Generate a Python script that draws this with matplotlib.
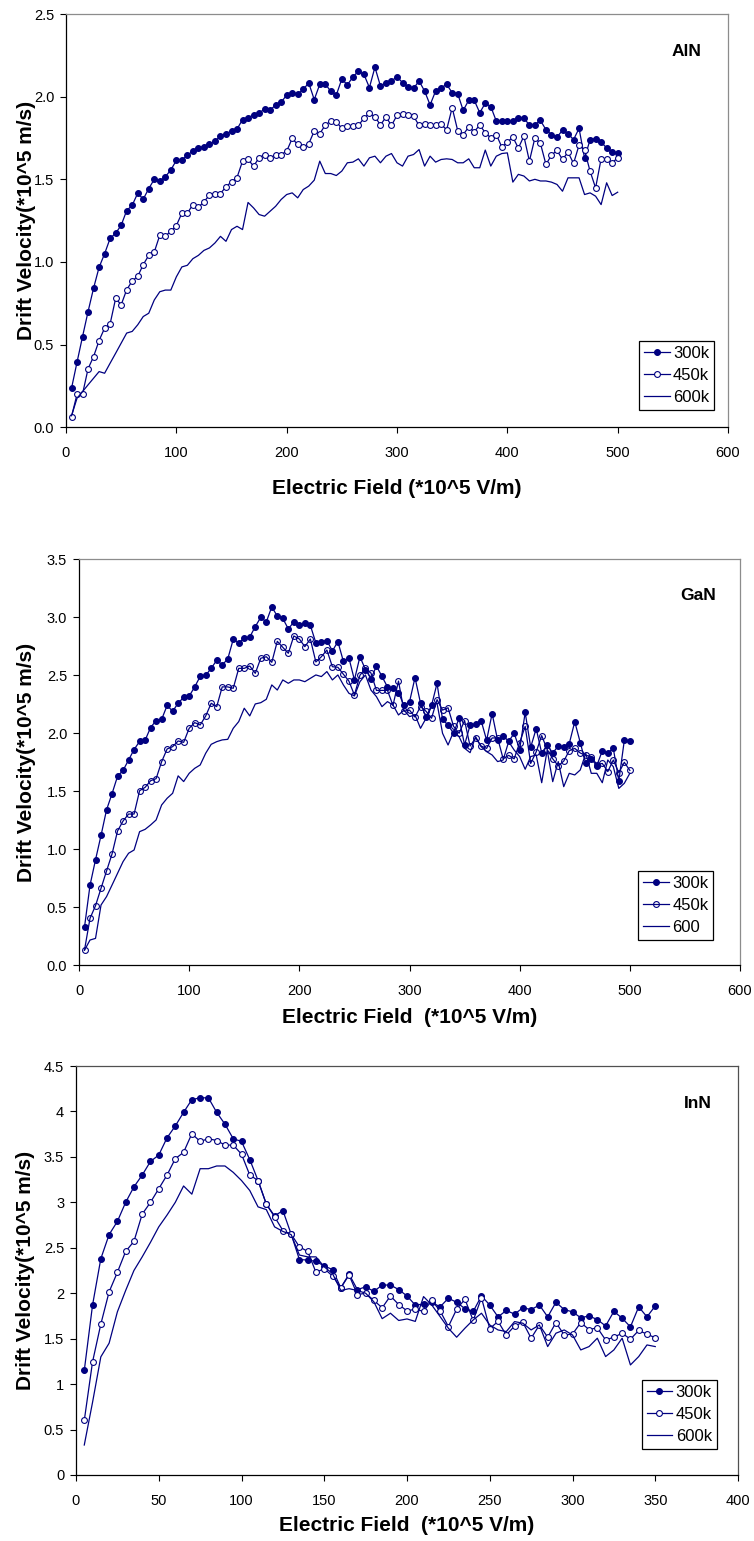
import numpy as np
import matplotlib
matplotlib.use("Agg")
import matplotlib.pyplot as plt
from matplotlib.ticker import FormatStrFormatter, FuncFormatter

plt.rcParams['font.family'] = ['Liberation Sans', 'DejaVu Sans']

NAVY = '#000080'

# ---------------- data ----------------
aln_field = np.arange(5, 505, 5)
aln_300k = [0.236, 0.394, 0.549, 0.70, 0.842, 0.968, 1.05, 1.143, 1.174, 1.222,
            1.311, 1.343, 1.416, 1.38, 1.444, 1.50, 1.487, 1.515, 1.557, 1.614,
            1.616, 1.646, 1.671, 1.691, 1.697, 1.711, 1.731, 1.76, 1.776, 1.792,
            1.804, 1.861, 1.873, 1.889, 1.899, 1.927, 1.919, 1.949, 1.966, 2.01,
            2.024, 2.014, 2.044, 2.083, 1.982, 2.075, 2.077, 2.032, 2.01, 2.107,
            2.071, 2.119, 2.154, 2.135, 2.055, 2.178, 2.064, 2.085, 2.095, 2.12,
            2.085, 2.06, 2.05, 2.095, 2.034, 1.95, 2.034, 2.054, 2.074, 2.024,
            2.018, 1.917, 1.978, 1.978, 1.903, 1.96, 1.94, 1.852, 1.85, 1.85,
            1.85, 1.873, 1.873, 1.826, 1.83, 1.856, 1.80, 1.77, 1.755, 1.797,
            1.776, 1.74, 1.808, 1.628, 1.74, 1.745, 1.725, 1.69, 1.664, 1.66]
aln_450k = [0.065, 0.20, 0.202, 0.354, 0.428, 0.525, 0.60, 0.626, 0.78, 0.741,
            0.832, 0.885, 0.913, 0.984, 1.04, 1.06, 1.162, 1.156, 1.186, 1.22,
            1.295, 1.295, 1.347, 1.331, 1.364, 1.404, 1.414, 1.414, 1.455, 1.485,
            1.511, 1.61, 1.62, 1.58, 1.63, 1.65, 1.63, 1.648, 1.65, 1.67,
            1.747, 1.711, 1.695, 1.715, 1.792, 1.776, 1.828, 1.853, 1.848, 1.808,
            1.822, 1.824, 1.826, 1.869, 1.899, 1.879, 1.828, 1.877, 1.826, 1.887,
            1.893, 1.887, 1.882, 1.826, 1.836, 1.826, 1.828, 1.832, 1.80, 1.933,
            1.795, 1.771, 1.816, 1.788, 1.828, 1.782, 1.751, 1.771, 1.695, 1.725,
            1.755, 1.689, 1.761, 1.61, 1.751, 1.717, 1.59, 1.646, 1.675, 1.62,
            1.664, 1.596, 1.707, 1.675, 1.549, 1.448, 1.624, 1.624, 1.60, 1.63]
aln_600k = [0.07, 0.176, 0.216, 0.257, 0.297, 0.337, 0.327, 0.388, 0.448, 0.509,
            0.57, 0.58, 0.62, 0.67, 0.69, 0.77, 0.82, 0.83, 0.83, 0.91,
            0.97, 0.98, 1.02, 1.04, 1.07, 1.085, 1.115, 1.155, 1.125, 1.196,
            1.216, 1.196, 1.36, 1.327, 1.287, 1.277, 1.307, 1.337, 1.378, 1.408,
            1.418, 1.388, 1.438, 1.459, 1.495, 1.61, 1.535, 1.535, 1.523, 1.55,
            1.60, 1.604, 1.624, 1.58, 1.63, 1.64, 1.60, 1.64, 1.656, 1.60,
            1.58, 1.64, 1.65, 1.68, 1.58, 1.64, 1.604, 1.62, 1.624, 1.62,
            1.60, 1.60, 1.624, 1.57, 1.57, 1.677, 1.58, 1.64, 1.656, 1.66,
            1.483, 1.53, 1.52, 1.49, 1.50, 1.49, 1.49, 1.483, 1.469, 1.428,
            1.509, 1.509, 1.509, 1.408, 1.418, 1.398, 1.347, 1.479, 1.402, 1.422]

gan_field = np.arange(5, 505, 5)
gan_300k = [0.33, 0.69, 0.91, 1.12, 1.34, 1.48, 1.63, 1.68, 1.77, 1.86,
            1.93, 1.94, 2.05, 2.11, 2.12, 2.24, 2.19, 2.26, 2.31, 2.32,
            2.40, 2.49, 2.50, 2.56, 2.63, 2.59, 2.64, 2.81, 2.78, 2.82,
            2.83, 2.92, 3.00, 2.96, 3.09, 3.01, 2.99, 2.90, 2.96, 2.93,
            2.95, 2.93, 2.78, 2.79, 2.80, 2.71, 2.79, 2.62, 2.65, 2.46,
            2.66, 2.55, 2.47, 2.58, 2.49, 2.40, 2.39, 2.35, 2.24, 2.27,
            2.48, 2.26, 2.14, 2.24, 2.43, 2.12, 2.07, 2.00, 2.13, 1.90,
            2.07, 2.08, 2.11, 1.94, 2.17, 1.94, 1.98, 1.93, 2.00, 1.86,
            2.18, 1.88, 2.04, 1.83, 1.90, 1.83, 1.89, 1.88, 1.91, 2.10,
            1.92, 1.74, 1.78, 1.72, 1.85, 1.83, 1.87, 1.59, 1.94, 1.93]
gan_450k = [0.132, 0.405, 0.514, 0.664, 0.813, 0.96, 1.158, 1.244, 1.304, 1.304,
            1.505, 1.534, 1.591, 1.609, 1.755, 1.865, 1.885, 1.934, 1.922, 2.043,
            2.092, 2.072, 2.149, 2.259, 2.23, 2.40, 2.40, 2.388, 2.56, 2.56,
            2.58, 2.517, 2.647, 2.66, 2.612, 2.793, 2.741, 2.69, 2.839, 2.813,
            2.747, 2.813, 2.615, 2.66, 2.718, 2.574, 2.569, 2.509, 2.45, 2.33,
            2.50, 2.56, 2.52, 2.37, 2.37, 2.37, 2.24, 2.45, 2.19, 2.20,
            2.14, 2.23, 2.19, 2.13, 2.29, 2.20, 2.22, 2.06, 2.00, 2.11,
            1.89, 1.96, 1.89, 1.87, 1.96, 1.96, 1.78, 1.81, 1.78, 1.92,
            2.06, 1.74, 1.84, 1.98, 1.86, 1.78, 1.72, 1.76, 1.85, 1.87,
            1.83, 1.81, 1.80, 1.73, 1.74, 1.67, 1.77, 1.66, 1.75, 1.68]
gan_600 = [0.13, 0.218, 0.232, 0.52, 0.592, 0.692, 0.793, 0.894, 0.966, 0.994,
           1.152, 1.172, 1.21, 1.253, 1.382, 1.44, 1.483, 1.633, 1.584, 1.655,
           1.698, 1.727, 1.828, 1.905, 1.928, 1.943, 1.948, 2.043, 2.101, 2.216,
           2.15, 2.253, 2.264, 2.293, 2.417, 2.373, 2.46, 2.431, 2.46, 2.46,
           2.445, 2.474, 2.503, 2.489, 2.532, 2.46, 2.503, 2.417, 2.345, 2.322,
           2.445, 2.503, 2.373, 2.316, 2.23, 2.273, 2.244, 2.158, 2.20, 2.144,
           2.158, 2.043, 2.129, 2.23, 2.259, 2.0, 1.899, 2.014, 1.971, 1.871,
           1.833, 1.971, 1.885, 1.842, 1.813, 1.756, 1.77, 1.928, 1.856, 1.799,
           1.69, 1.799, 1.813, 1.574, 1.856, 1.583, 1.756, 1.54, 1.655, 1.641,
           1.684, 1.827, 1.655, 1.655, 1.574, 1.77, 1.712, 1.525, 1.569, 1.655]

inn_field = np.arange(5, 355, 5)
inn_300k = [1.15, 1.87, 2.38, 2.645, 2.79, 3.00, 3.17, 3.30, 3.45, 3.52,
            3.71, 3.84, 3.99, 4.13, 4.15, 4.15, 3.99, 3.86, 3.70, 3.67,
            3.47, 3.24, 2.98, 2.85, 2.91, 2.65, 2.37, 2.365, 2.35, 2.30,
            2.26, 2.06, 2.21, 2.04, 2.07, 2.02, 2.09, 2.09, 2.04, 1.97,
            1.87, 1.88, 1.90, 1.85, 1.945, 1.90, 1.83, 1.80, 1.97, 1.87,
            1.74, 1.81, 1.77, 1.84, 1.82, 1.87, 1.74, 1.90, 1.82, 1.795,
            1.73, 1.75, 1.71, 1.64, 1.80, 1.725, 1.63, 1.85, 1.74, 1.86]
inn_450k = [0.60, 1.245, 1.66, 2.015, 2.23, 2.46, 2.57, 2.87, 3.00, 3.15,
            3.30, 3.48, 3.55, 3.755, 3.67, 3.70, 3.68, 3.63, 3.63, 3.53,
            3.30, 3.24, 2.98, 2.84, 2.69, 2.65, 2.51, 2.46, 2.23, 2.27,
            2.19, 2.06, 2.20, 1.985, 2.00, 1.92, 1.84, 1.97, 1.875, 1.806,
            1.824, 1.80, 1.92, 1.806, 1.633, 1.824, 1.934, 1.70, 1.95, 1.61,
            1.69, 1.54, 1.64, 1.68, 1.505, 1.65, 1.516, 1.677, 1.54, 1.55,
            1.677, 1.60, 1.62, 1.486, 1.516, 1.56, 1.494, 1.59, 1.55, 1.51]
inn_600k = [0.33, 0.80, 1.30, 1.45, 1.795, 2.03, 2.25, 2.40, 2.56, 2.73,
            2.86, 3.00, 3.18, 3.09, 3.37, 3.37, 3.40, 3.40, 3.33, 3.24,
            3.13, 2.95, 2.92, 2.73, 2.68, 2.645, 2.42, 2.40, 2.40, 2.29,
            2.216, 2.03, 2.05, 2.03, 2.00, 1.905, 1.72, 1.78, 1.70, 1.717,
            1.69, 1.963, 1.87, 1.743, 1.615, 1.516, 1.615, 1.706, 1.78, 1.651,
            1.596, 1.578, 1.688, 1.67, 1.596, 1.651, 1.413, 1.56, 1.596, 1.541,
            1.376, 1.413, 1.505, 1.303, 1.376, 1.505, 1.211, 1.303, 1.431, 1.413]

aln_xticks = [0, 100, 200, 300, 400, 500, 600]
gan_xticks = [0, 100, 200, 300, 400, 500, 600]
inn_xticks = [0, 50, 100, 150, 200, 250, 300, 350, 400]
aln_yticks = [0.0, 0.5, 1.0, 1.5, 2.0, 2.5]
gan_yticks = [0.0, 0.5, 1.0, 1.5, 2.0, 2.5, 3.0, 3.5]
inn_yticks = [0, 0.5, 1, 1.5, 2, 2.5, 3, 3.5, 4, 4.5]

# ---------------- figure ----------------
W, H = 754, 1541
fig = plt.figure(figsize=(W / 100, H / 100), dpi=100)


def px_axes(left, top, right, bottom):
    return fig.add_axes([left / W, 1 - bottom / H, (right - left) / W, (bottom - top) / H])


def style(ax, xticks, yticks, yfmt, edge_gray):
    ax.set_xlim(xticks[0], xticks[-1])
    ax.set_ylim(yticks[0], yticks[-1])
    ax.set_xticks(xticks)
    ax.set_yticks(yticks)
    ax.yaxis.set_major_formatter(yfmt)
    ax.tick_params(axis='both', direction='out', length=4.5, width=0.8,
                   labelsize=10.5, colors='black')
    ax.tick_params(axis='x', pad=9)
    ax.tick_params(axis='y', pad=4)
    for s in ('left', 'bottom'):
        ax.spines[s].set_color('black')
        ax.spines[s].set_linewidth(0.9)
    for s in ('top', 'right'):
        ax.spines[s].set_color(edge_gray)
        ax.spines[s].set_linewidth(0.9)


def labels(ax, xlabel, xl_y, yl_x, name, name_xy):
    ax.set_xlabel(xlabel, fontsize=15, fontweight='bold')
    ax.set_ylabel('Drift Velocity(*10^5 m/s)', fontsize=15, fontweight='bold')
    ax.xaxis.label.set_verticalalignment('center')
    ax.yaxis.label.set_verticalalignment('center')
    ax.xaxis.set_label_coords(0.5, xl_y)
    ax.yaxis.set_label_coords(yl_x, 0.5)
    ax.text(name_xy[0], name_xy[1], name, transform=ax.transAxes, ha='center',
            va='center', fontsize=12.5, fontweight='bold')


def legend(ax, handles, names, anchor):
    leg = ax.legend(handles, names, loc='lower right', bbox_to_anchor=anchor,
                    borderaxespad=0, frameon=True, fancybox=False, edgecolor='black',
                    framealpha=1, fontsize=12, handlelength=1.55, handletextpad=0.2,
                    labelspacing=0.42, borderpad=0.3)
    leg.get_frame().set_linewidth(0.9)


lw = 0.9
ms = 4.2

# ---- AlN ----
ax1 = px_axes(66, 14, 728, 427.3)
h1, = ax1.plot(aln_field, aln_300k, color=NAVY, lw=lw, marker='o', ms=ms,
               mfc=NAVY, mec=NAVY, mew=0.8)
h2, = ax1.plot(aln_field, aln_450k, color=NAVY, lw=lw, marker='o', ms=ms,
               mfc='white', mec=NAVY, mew=0.8)
h3, = ax1.plot(aln_field, aln_600k, color=NAVY, lw=lw)
style(ax1, aln_xticks, aln_yticks, FormatStrFormatter('%.1f'), '#8c8c8c')
labels(ax1, 'Electric Field (*10^5 V/m)', -0.149, -0.059, 'AlN', (0.9376, 0.9088))
legend(ax1, [h1, h2, h3], ['300k', '450k', '600k'], (0.979, 0.042))

# ---- GaN ----
ax2 = px_axes(79, 559.3, 740, 965.3)
g1, = ax2.plot(gan_field, gan_300k, color=NAVY, lw=lw, marker='o', ms=ms,
               mfc=NAVY, mec=NAVY, mew=0.8)
g2, = ax2.plot(gan_field, gan_450k, color=NAVY, lw=lw, marker='o', ms=ms,
               mfc='none', mec=NAVY, mew=0.8)
g3, = ax2.plot(gan_field, gan_600, color=NAVY, lw=lw)
style(ax2, gan_xticks, gan_yticks, FormatStrFormatter('%.1f'), '#8c8c8c')
labels(ax2, 'Electric Field  (*10^5 V/m)', -0.1286, -0.0790, 'GaN', (0.937, 0.912))
legend(ax2, [g1, g2, g3], ['300k', '450k', '600'], (0.9596, 0.0623))

# ---- InN ----
ax3 = px_axes(76, 1066, 738, 1475)
i1, = ax3.plot(inn_field, inn_300k, color=NAVY, lw=lw, marker='o', ms=ms,
               mfc=NAVY, mec=NAVY, mew=0.8)
i2, = ax3.plot(inn_field, inn_450k, color=NAVY, lw=lw, marker='o', ms=ms,
               mfc='white', mec=NAVY, mew=0.8)
i3, = ax3.plot(inn_field, inn_600k, color=NAVY, lw=lw)
style(ax3, inn_xticks, inn_yticks, FuncFormatter(lambda v, p: '%g' % v), '#505050')
labels(ax3, 'Electric Field  (*10^5 V/m)', -0.1235, -0.0760, 'InN', (0.9396, 0.908))
legend(ax3, [i1, i2, i3], ['300k', '450k', '600k'], (0.968, 0.0636))

fig.savefig('out.png', dpi=100)
